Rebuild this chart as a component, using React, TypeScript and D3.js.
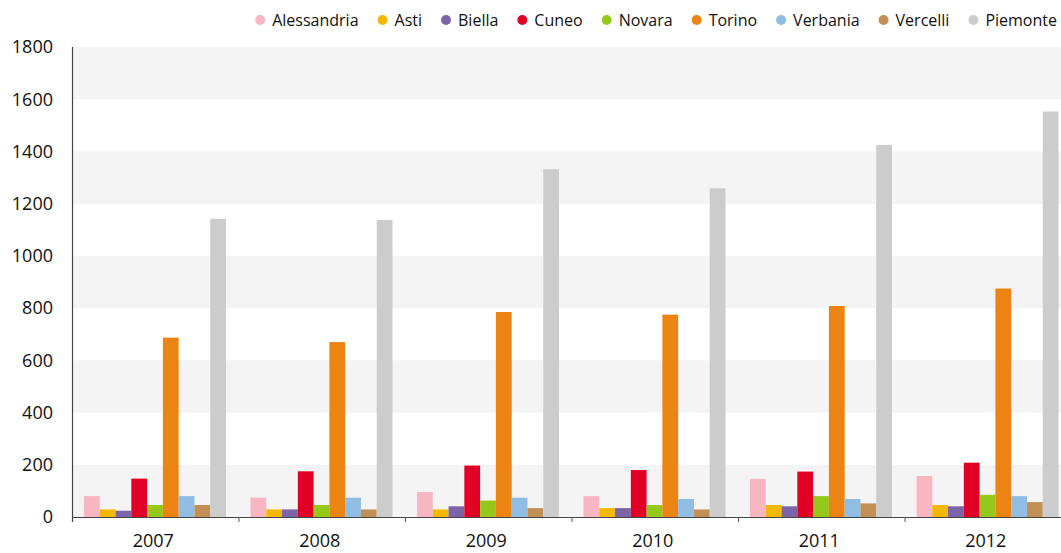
import React, { useRef, useEffect } from 'react';
import * as d3 from 'd3';

// Data
const years = ['2007', '2008', '2009', '2010', '2011', '2012'];
const regions = ['Alessandria', 'Asti', 'Biella', 'Cuneo', 'Novara', 'Torino', 'Verbania', 'Vercelli', 'Piemonte'];
const colors = ['#f7b6c2', '#f5b800', '#7b64a8', '#e10026', '#95c81b', '#eb8412', '#8fbde4', '#c29055', '#cccccc'];

const alessandria = [80, 74, 96, 80, 146, 157];
const asti = [29, 29, 29, 34, 46, 46];
const biella = [24, 29, 41, 34, 41, 41];
const cuneo = [147, 175, 197, 180, 174, 208];
const novara = [46, 46, 63, 46, 80, 85];
const torino = [687, 670, 785, 775, 808, 875];
const verbania = [80, 74, 74, 69, 69, 80];
const vercelli = [46, 29, 34, 29, 52, 57];
const piemonte = [1142, 1137, 1332, 1259, 1425, 1553];

const series = [alessandria, asti, biella, cuneo, novara, torino, verbania, vercelli, piemonte];
const yTicks = [0, 200, 400, 600, 800, 1000, 1200, 1400, 1600, 1800];

const FONT = '"Open Sans", "DejaVu Sans", sans-serif';

const App = () => {
  const ref = useRef<SVGSVGElement>(null);
  const width = 1061;
  const height = 553;

  useEffect(() => {
    const svg = d3.select(ref.current);
    svg.selectAll('*').remove();

    const left = 72;
    const top = 47;
    const bottom = 517;
    const groupW = 166.5;

    const x0 = d3.scaleBand<string>()
      .domain(years)
      .range([left, left + groupW * years.length])
      .padding(0);

    const x1 = d3.scaleBand<string>()
      .domain(regions)
      .range([12, groupW - 12.5])
      .padding(0);

    const y = d3.scaleLinear()
      .domain([0, 1800])
      .range([bottom, top]);

    // Alternating background bands
    const bands = d3.range(0, 1800, 400);
    svg.append('g')
      .selectAll('rect')
      .data(bands)
      .join('rect')
      .attr('x', left)
      .attr('y', d => y(d + 200))
      .attr('width', width - left)
      .attr('height', d => y(d) - y(d + 200))
      .attr('fill', '#f4f4f4');

    // Bars
    const groups = svg.append('g')
      .selectAll('g')
      .data(years)
      .join('g')
      .attr('transform', d => `translate(${x0(d)},0)`);

    groups.selectAll('rect')
      .data((yr, i) => regions.map((r, k) => ({ region: r, value: series[k][i], color: colors[k] })))
      .join('rect')
      .attr('x', d => x1(d.region)!)
      .attr('y', d => y(d.value))
      .attr('width', x1.bandwidth())
      .attr('height', d => bottom - y(d.value))
      .attr('fill', d => d.color);

    // Axes
    svg.append('line')
      .attr('x1', left).attr('x2', width)
      .attr('y1', bottom + 0.5).attr('y2', bottom + 0.5)
      .attr('stroke', '#444').attr('stroke-width', 1.2);
    svg.append('line')
      .attr('x1', left + 0.5).attr('x2', left + 0.5)
      .attr('y1', top).attr('y2', bottom + 5)
      .attr('stroke', '#444').attr('stroke-width', 1.2);

    // x ticks between groups
    svg.append('g')
      .selectAll('line')
      .data(years.slice(1))
      .join('line')
      .attr('x1', d => x0(d)! + 0.5)
      .attr('x2', d => x0(d)! + 0.5)
      .attr('y1', bottom)
      .attr('y2', bottom + 5)
      .attr('stroke', '#555');

    svg.append('g')
      .selectAll('text')
      .data(years)
      .join('text')
      .attr('x', d => x0(d)! + groupW / 2 - 2)
      .attr('y', 547)
      .attr('text-anchor', 'middle')
      .style('font-family', FONT)
      .style('font-size', '18px')
      .attr('fill', '#111')
      .text(d => d);

    svg.append('g')
      .selectAll('text')
      .data(yTicks)
      .join('text')
      .attr('x', 53)
      .attr('y', d => y(d))
      .attr('dy', '0.35em')
      .attr('text-anchor', 'end')
      .style('font-family', FONT)
      .style('font-size', '18px')
      .attr('fill', '#111')
      .text(d => d);

    // Legend: lay out items, then shift so the last label ends near the right edge
    const legend = svg.append('g');
    let cx = 0;
    regions.forEach((r, k) => {
      legend.append('circle')
        .attr('cx', cx).attr('cy', 20).attr('r', 5)
        .attr('fill', colors[k]);
      const t = legend.append('text')
        .attr('x', cx + 12)
        .attr('y', 20)
        .attr('dy', '0.35em')
        .style('font-family', FONT)
        .style('font-size', '16px')
        .attr('fill', '#111')
        .text(r);
      const w = (t.node() as SVGTextElement).getComputedTextLength();
      cx = cx + 12 + w + 24;
    });
    const legendEnd = cx - 24;
    legend.attr('transform', `translate(${1057 - legendEnd},0)`);
  }, []);

  return (
    <svg
      ref={ref}
      width={width}
      height={height}
      style={{ position: 'absolute', left: 0, top: 0, background: '#fff' }}
    />
  );
};

export default App;
